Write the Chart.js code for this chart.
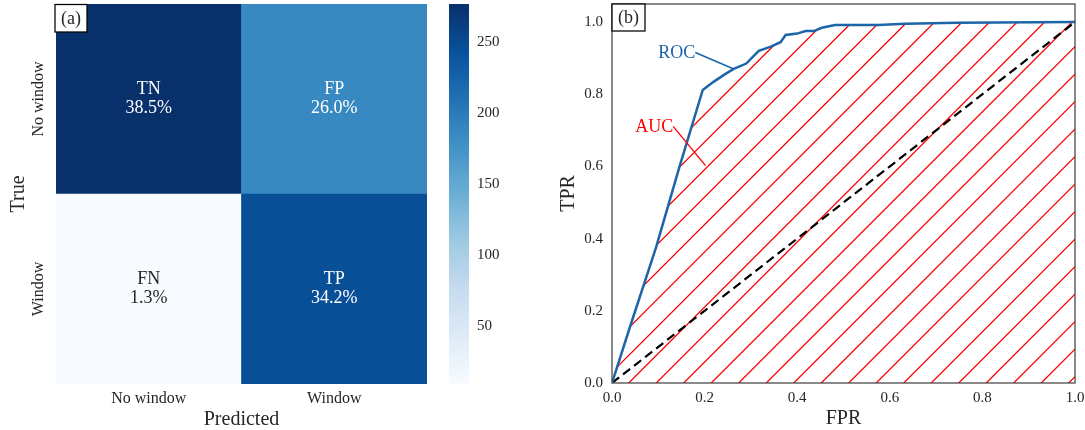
<!DOCTYPE html>
<html>
<head>
<meta charset="utf-8">
<script src="https://cdn.jsdelivr.net/npm/chart.js@4.4.1/dist/chart.umd.min.js"></script>
<style>
  body { margin: 0; background: #fff; }
  #wrap { position: relative; width: 1085px; height: 430px; }
  canvas { position: absolute; top: 0; }
</style>
</head>
<body>
<div id="wrap">
  <canvas id="cm" width="440" height="430" style="left:0"></canvas>
  <canvas id="cbar" width="80" height="430" style="left:440px"></canvas>
  <canvas id="roc" width="545" height="430" style="left:540px"></canvas>
</div>
<script>
// confusion matrix counts, rows = true class, columns = predicted class
const classNames = ['No window', 'Window'];
const cmNoWindow = [277, 187];   // TN, FP
const cmWindow = [9, 246];       // FN, TP
const tagsNoWindow = ['TN', 'FP'];
const tagsWindow = ['FN', 'TP'];
const cbarTicks = [50, 100, 150, 200, 250];

// ROC curve
const fpr = [0, 0.04, 0.095, 0.146, 0.196, 0.220, 0.246, 0.263, 0.290, 0.317, 0.343, 0.364,
             0.375, 0.400, 0.418, 0.436, 0.453, 0.482, 0.574, 0.634, 0.747, 1.0];
const tpr = [0, 0.16, 0.375, 0.600, 0.812, 0.835, 0.857, 0.870, 0.885, 0.920, 0.932, 0.944,
             0.964, 0.968, 0.975, 0.975, 0.984, 0.992, 0.992, 0.995, 0.998, 1.0];
const chanceX = [0, 1];
const chanceY = [0, 1];
const rocTicks = [0, 0.2, 0.4, 0.6, 0.8, 1.0];

const SERIF = "'Liberation Serif', 'Times New Roman', serif";
const INK = '#262626';
const ROC_BLUE = '#1b65a8';
const HATCH_STEP = 27.5;
const HATCH_PHASE = 4.2;

Chart.defaults.font.family = SERIF;
Chart.defaults.color = INK;

// matplotlib "Blues"
const BLUES = ['#f7fbff', '#deebf7', '#c6dbef', '#9ecae1', '#6baed6', '#4292c6', '#2171b5', '#08519c', '#08306b'];
function hexRgb(h) {
    const n = parseInt(h.slice(1), 16);
    return [(n >> 16) & 255, (n >> 8) & 255, n & 255];
}
function blues(t) {
    t = Math.min(1, Math.max(0, t));
    const p = t * (BLUES.length - 1);
    const i = Math.min(Math.floor(p), BLUES.length - 2);
    const f = p - i;
    const a = hexRgb(BLUES[i]), b = hexRgb(BLUES[i + 1]);
    return 'rgb(' + a.map((v, k) => Math.round(v + (b[k] - v) * f)).join(',') + ')';
}

const allCounts = cmNoWindow.concat(cmWindow);
const vmin = Math.min(...allCounts);
const vmax = Math.max(...allCounts);
const total = allCounts.reduce((s, v) => s + v, 0);
const norm = v => (v - vmin) / (vmax - vmin);
const cellColor = v => blues(norm(v));

function panelTag(ctx, x, y, w, h, text) {
    ctx.save();
    ctx.fillStyle = '#fff';
    ctx.fillRect(x, y, w, h);
    ctx.strokeStyle = '#000';
    ctx.lineWidth = 1.25;
    ctx.strokeRect(x, y, w, h);
    ctx.fillStyle = INK;
    ctx.font = '18px ' + SERIF;
    ctx.textAlign = 'center';
    ctx.textBaseline = 'middle';
    ctx.fillText(text, x + w / 2, y + h / 2 + 1);
    ctx.restore();
}

// cell annotations, rotated row labels and the panel tag
const cmLabels = {
    id: 'cmLabels',
    afterDatasetsDraw(chart) {
        const { ctx, scales: { y } } = chart;
        ctx.save();
        ctx.textAlign = 'center';
        ctx.textBaseline = 'middle';
        chart.data.datasets.forEach((ds, di) => {
            const meta = chart.getDatasetMeta(di);
            meta.data.forEach((el, i) => {
                const n = ds.counts[i];
                const cx = el.x;
                const cy = (el.y + el.base) / 2;
                ctx.fillStyle = norm(n) < 0.5 ? INK : '#ffffff';
                ctx.font = '18px ' + SERIF;
                ctx.fillText(ds.tags[i], cx, cy - 10);
                ctx.fillText((n / total * 100).toFixed(1) + '%', cx, cy + 9);
            });
            // row label
            ctx.save();
            ctx.fillStyle = INK;
            ctx.font = '16px ' + SERIF;
            ctx.translate(39, y.getPixelForValue(di + 0.5));
            ctx.rotate(-Math.PI / 2);
            ctx.fillText(ds.label, 0, 0);
            ctx.restore();
        });
        ctx.restore();
        panelTag(ctx, 55, 4.5, 32, 27.5, '(a)');
    }
};

new Chart(document.getElementById('cm'), {
    type: 'bar',
    data: {
        labels: classNames,
        datasets: [
            { label: 'Window', data: cmWindow.map(() => 1), counts: cmWindow, tags: tagsWindow,
              backgroundColor: cmWindow.map(cellColor) },
            { label: 'No window', data: cmNoWindow.map(() => 1), counts: cmNoWindow, tags: tagsNoWindow,
              backgroundColor: cmNoWindow.map(cellColor) }
        ]
    },
    options: {
        responsive: false,
        animation: false,
        layout: { padding: { top: 4, right: 13, left: 0, bottom: 0 } },
        plugins: { legend: { display: false }, tooltip: { enabled: false } },
        datasets: { bar: { barPercentage: 1, categoryPercentage: 1, borderWidth: 0 } },
        scales: {
            x: {
                stacked: true,
                grid: { display: false, drawTicks: false },
                border: { display: false },
                ticks: { padding: 5, font: { size: 16 }, color: INK },
                title: { display: true, text: 'Predicted', font: { size: 20, lineHeight: 1 }, padding: { top: 0, bottom: 0 } },
                afterFit: s => { s.height = 46; s.paddingLeft = 0; s.paddingRight = 0; }
            },
            y: {
                stacked: true,
                min: 0,
                max: 2,
                grid: { display: false, drawTicks: false },
                border: { display: false },
                ticks: { display: false },
                title: { display: true, text: 'True', font: { size: 20, lineHeight: 1 }, padding: { top: 9, bottom: 0 } },
                afterFit: s => { s.width = 56; s.paddingTop = 0; s.paddingBottom = 0; }
            }
        }
    },
    plugins: [cmLabels]
});

// colour bar
new Chart(document.getElementById('cbar'), {
    type: 'bar',
    data: {
        labels: [''],
        datasets: [{
            data: [[vmin, vmax]],
            borderWidth: 0,
            backgroundColor: c => {
                const { chart } = c;
                if (!chart.chartArea) return BLUES[4];
                const ys = chart.scales.y;
                const g = chart.ctx.createLinearGradient(0, ys.getPixelForValue(vmin), 0, ys.getPixelForValue(vmax));
                BLUES.forEach((col, i) => g.addColorStop(i / (BLUES.length - 1), col));
                return g;
            }
        }]
    },
    options: {
        responsive: false,
        animation: false,
        layout: { padding: { left: 9, top: 4, bottom: 46, right: 0 } },
        plugins: { legend: { display: false }, tooltip: { enabled: false } },
        datasets: { bar: { barPercentage: 1, categoryPercentage: 1 } },
        scales: {
            x: { display: false },
            y: {
                position: 'right',
                min: vmin,
                max: vmax,
                grid: { display: false, drawTicks: false },
                border: { display: false },
                ticks: { padding: 8, font: { size: 15 }, color: INK },
                afterBuildTicks: s => { s.ticks = cbarTicks.map(v => ({ value: v })); },
                afterFit: s => { s.width = 51; s.paddingTop = 0; s.paddingBottom = 0; }
            }
        }
    }
});

// hatched area under the ROC curve
const aucHatch = {
    id: 'aucHatch',
    beforeDatasetsDraw(chart) {
        const { ctx, chartArea: a, scales: { y } } = chart;
        const pts = chart.getDatasetMeta(0).data;
        if (!pts.length) return;
        const base = y.getPixelForValue(0);
        ctx.save();
        ctx.beginPath();
        ctx.rect(a.left, a.top, a.right - a.left, a.bottom - a.top);
        ctx.clip();
        ctx.beginPath();
        ctx.moveTo(pts[0].x, base);
        pts.forEach(p => ctx.lineTo(p.x, p.y));
        ctx.lineTo(pts[pts.length - 1].x, base);
        ctx.closePath();
        ctx.clip();
        ctx.strokeStyle = '#ff0000';
        ctx.lineWidth = 1.3;
        ctx.beginPath();
        const H = chart.height;
        for (let c = HATCH_PHASE; c < chart.width + H; c += HATCH_STEP) {
            ctx.moveTo(c, 0);
            ctx.lineTo(c - H, H);
        }
        ctx.stroke();
        ctx.restore();
    }
};

// axes frame, annotations and panel tag
const rocNotes = {
    id: 'rocNotes',
    afterDatasetsDraw(chart) {
        const { ctx, chartArea: a, scales: { x, y } } = chart;
        ctx.save();
        ctx.strokeStyle = '#444';
        ctx.lineWidth = 1.25;
        ctx.strokeRect(a.left, a.top, a.right - a.left, a.bottom - a.top);

        ctx.font = '18px ' + SERIF;
        ctx.textBaseline = 'middle';
        ctx.textAlign = 'left';
        const note = (text, color, tx, ty, px, py, lw) => {
            const x0 = x.getPixelForValue(tx);
            const y0 = y.getPixelForValue(ty);
            ctx.fillStyle = color;
            ctx.fillText(text, x0, y0);
            const w = ctx.measureText(text).width;
            ctx.strokeStyle = color;
            ctx.lineWidth = lw;
            ctx.beginPath();
            ctx.moveTo(x0 + w, y0 - 1);
            ctx.lineTo(x.getPixelForValue(px), y.getPixelForValue(py));
            ctx.stroke();
        };
        note('ROC', ROC_BLUE, 0.10, 0.913, 0.263, 0.870, 1.6);
        note('AUC', '#ff0000', 0.05, 0.708, 0.202, 0.602, 1.3);
        ctx.restore();
        panelTag(ctx, a.left, a.top, 33, 27, '(b)');
    }
};

new Chart(document.getElementById('roc'), {
    type: 'line',
    data: {
        datasets: [
            { label: 'ROC', data: fpr.map((v, i) => ({ x: v, y: tpr[i] })),
              borderColor: ROC_BLUE, borderWidth: 2.5, pointRadius: 0, tension: 0, fill: false },
            { label: 'Chance', data: chanceX.map((v, i) => ({ x: v, y: chanceY[i] })),
              borderColor: '#000', borderWidth: 2.2, borderDash: [9, 5], pointRadius: 0, fill: false }
        ]
    },
    options: {
        responsive: false,
        animation: false,
        layout: { padding: { top: 4, right: 10, left: 0, bottom: 0 } },
        plugins: { legend: { display: false }, tooltip: { enabled: false } },
        scales: {
            x: {
                type: 'linear',
                min: 0,
                max: 1,
                grid: { display: false, drawTicks: false },
                border: { display: false },
                ticks: { padding: 6, font: { size: 15 }, color: INK, callback: v => Number(v).toFixed(1) },
                afterBuildTicks: s => { s.ticks = rocTicks.map(v => ({ value: v })); },
                title: { display: true, text: 'FPR', font: { size: 20, lineHeight: 1 }, padding: { top: 0, bottom: 1 } },
                afterFit: s => { s.height = 47; s.paddingLeft = 0; s.paddingRight = 0; }
            },
            y: {
                type: 'linear',
                min: 0,
                max: 1.05,
                grid: { display: false, drawTicks: false },
                border: { display: false },
                ticks: { padding: 9, font: { size: 15 }, color: INK, callback: v => Number(v).toFixed(1) },
                afterBuildTicks: s => { s.ticks = rocTicks.map(v => ({ value: v })); },
                title: { display: true, text: 'TPR', font: { size: 20, lineHeight: 1 }, padding: { top: 19, bottom: 0 } },
                afterFit: s => { s.width = 72; s.paddingTop = 0; s.paddingBottom = 0; }
            }
        }
    },
    plugins: [aucHatch, rocNotes]
});
</script>
</body>
</html>
